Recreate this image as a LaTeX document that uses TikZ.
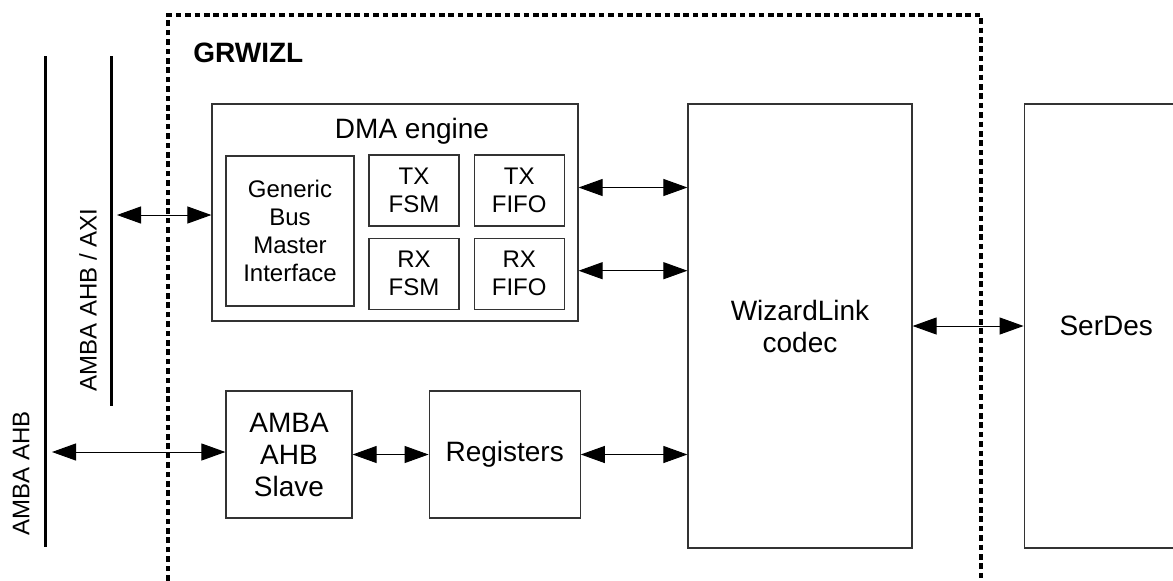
\documentclass[tikz,border=0pt]{standalone}
\usepackage{fontspec}
\setmainfont{Liberation Sans}
\usetikzlibrary{positioning,arrows.meta}

\newcommand\bigtxt{\fontsize{14pt}{16pt}\selectfont}
\newcommand\smalltxt{\fontsize{12pt}{14pt}\selectfont}

\begin{document}
\begin{tikzpicture}[
  x=0.5pt, y=-0.5pt,
  every node/.style={inner sep=0pt, align=center},
  blk/.style={draw=black!80, line width=0.6pt, font=\bigtxt},
  sub/.style={draw=black!80, line width=0.6pt, font=\smalltxt, minimum width=45pt, minimum height=35.5pt},
  bus/.style={line width=1.5pt, draw=black},
  buslabel/.style={rotate=90, font=\smalltxt},
  grp/.style={line width=1.7pt, dash pattern=on 2.8pt off 1.9pt},
  arr/.style={{Triangle[length=12pt, width=8.5pt]}-{Triangle[length=12pt, width=8.5pt]}, line width=0.5pt, draw=black}
]
\useasboundingbox (0,0) rectangle (1173,580);
\clip (0,0) rectangle (1173,580);

\draw[grp] (168,590) -- (168,15) -- (981,15) -- (981,590);
\node[anchor=base west, font=\bigtxt\bfseries] (title) at (193,62) {GRWIZL};

\coordinate (ahbtop) at (45,56);
\coordinate (ahbbot) at (45,547);
\coordinate (axitop) at (111,56);
\coordinate (axibot) at (111,406);
\draw[bus] (ahbtop) -- (ahbbot);
\draw[bus] (axitop) -- (axibot);
\node[buslabel] (ahblabel) at (21,473) {AMBA AHB};
\node[buslabel] (axilabel) at (88,300) {AMBA AHB / AXI};

\node[blk, minimum width=183pt, minimum height=108.5pt] (dma) at (395,212.5) {};
\node[anchor=base, font=\bigtxt] (dmatitle) at ([xshift=8.5pt, yshift=-17.5pt]dma.north) {DMA engine};
\node[sub, minimum width=64pt, minimum height=75pt] (gbmi) at (290,231) {Generic\\Bus\\Master\\Interface};
\node[sub] (txfsm) at (414,190.5) {TX\\FSM};
\node[sub, right=7pt of txfsm] (txfifo) {TX\\FIFO};
\node[sub, below=5.5pt of txfsm] (rxfsm) {RX\\FSM};
\node[sub, right=7pt of rxfsm] (rxfifo) {RX\\FIFO};

\node[blk, minimum width=112pt, minimum height=222pt] (wiz) at (800,326) {WizardLink\\codec};
\node[blk, minimum width=82pt, minimum height=222pt, right=55.5pt of wiz] (serdes) {SerDes};

\node[blk, minimum width=63pt, minimum height=63.5pt] (slave) at (289,454.5) {AMBA\\AHB\\Slave};
\node[blk, minimum width=75.5pt, minimum height=63.5pt, right=38pt of slave] (regs) {Registers};

\coordinate (axiend) at (117,215);
\coordinate (ahbend) at (52,452);
\draw[arr] (axiend) -- (axiend -| dma.west);
\draw[arr] (ahbend) -- (ahbend -| slave.west);
\draw[arr] (slave.east) -- (slave.east -| regs.west);
\draw[arr] (regs.east) -- (regs.east -| wiz.west);
\draw[arr] ([yshift=1.5pt]txfifo.east -| dma.east) -- ([yshift=1.5pt]txfifo.east -| wiz.west);
\draw[arr] ([yshift=1.5pt]rxfifo.east -| dma.east) -- ([yshift=1.5pt]rxfifo.east -| wiz.west);
\draw[arr] (wiz.east) -- (serdes.west);
\end{tikzpicture}
\end{document}
